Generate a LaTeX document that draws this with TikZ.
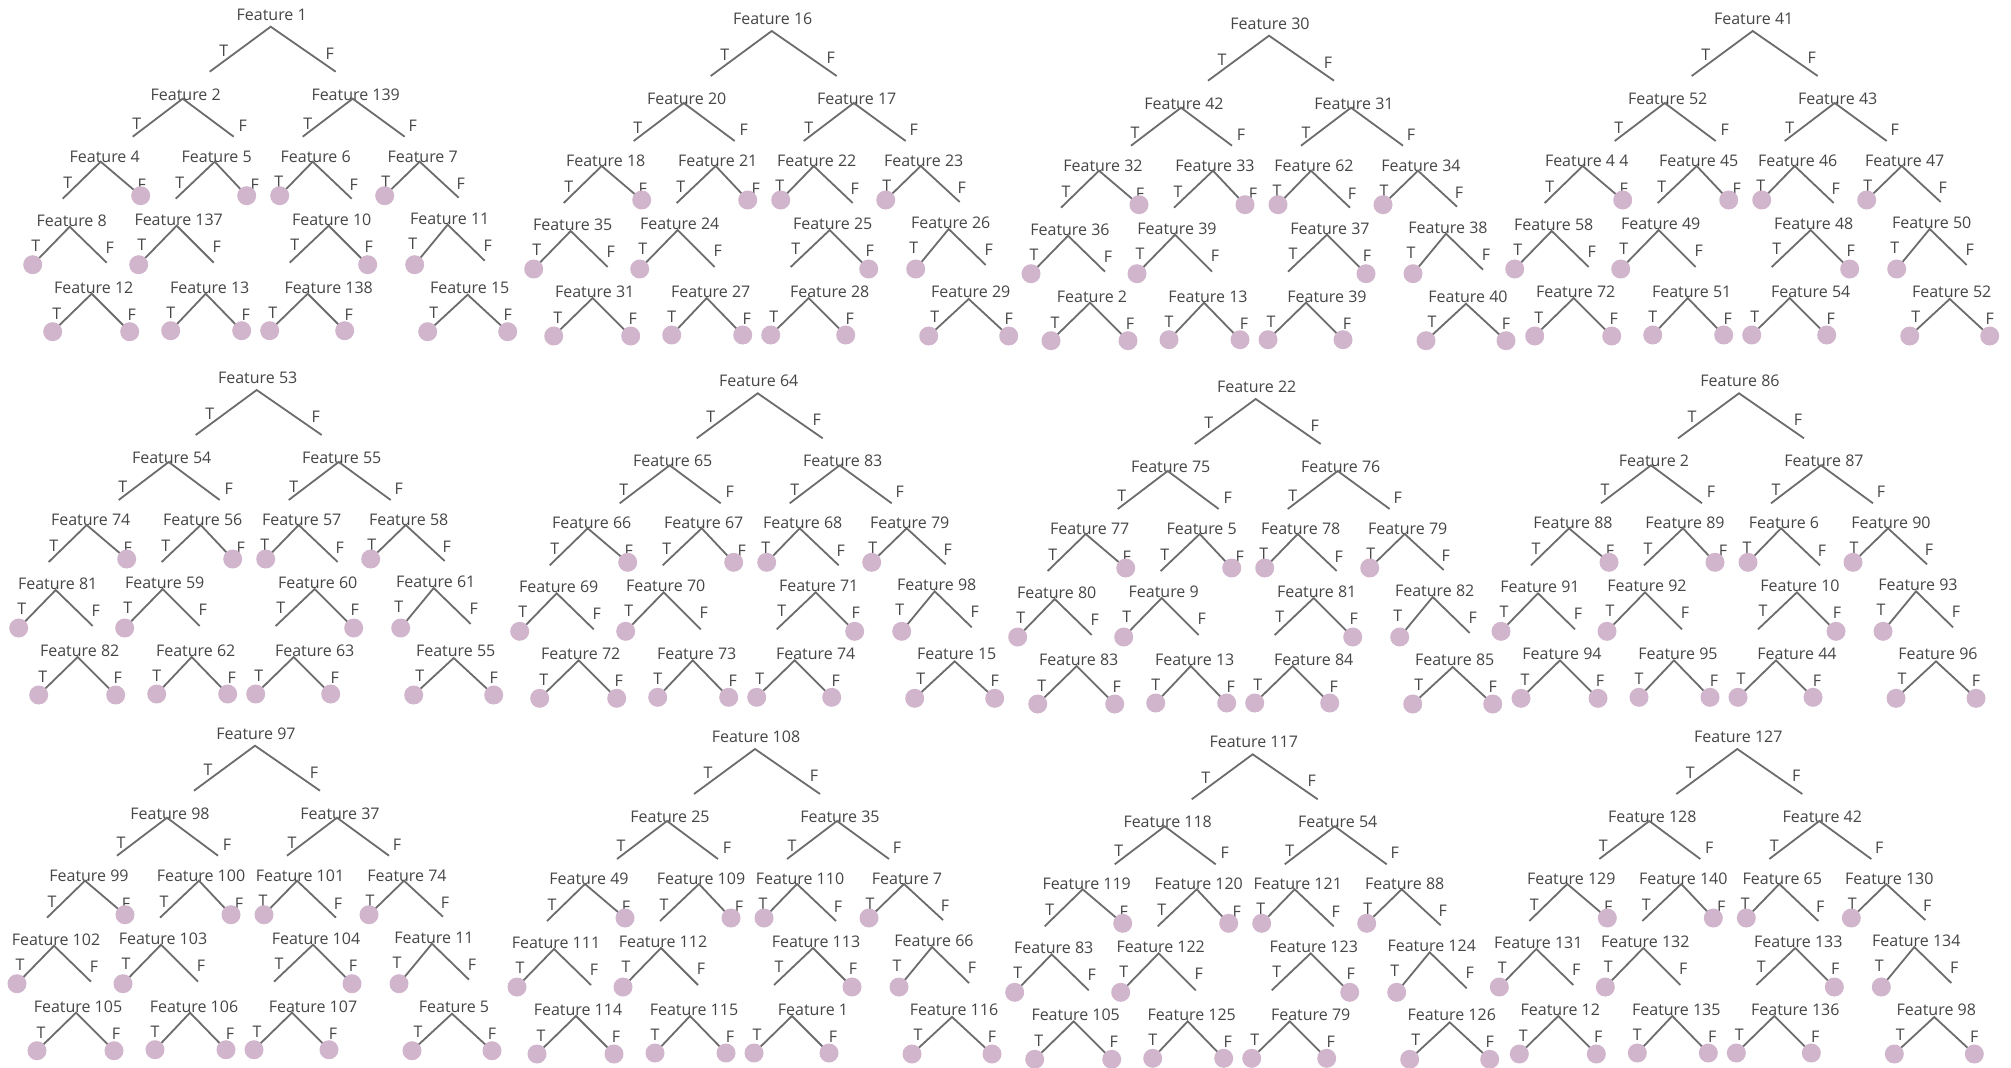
\documentclass[tikz,border=0pt]{standalone}
\usepackage{fontspec}
\setmainfont{Open Sans}
\definecolor{txt}{RGB}{70,70,70}
\definecolor{ln}{RGB}{108,108,108}
\definecolor{leafc}{RGB}{209,181,205}
\tikzset{
  feat/.style={anchor=base, yshift=-6.5pt, inner sep=0pt, text=txt, font=\fontsize{16}{18}\selectfont},
  tf/.style={anchor=base, yshift=-6.5pt, inner sep=0pt, text=txt, font=\fontsize{16}{18}\selectfont},
  br/.style={draw=ln, line width=1.8pt},
  leaf/.style={circle, fill=leafc, minimum size=19pt, inner sep=0pt},
}
% #1 name, #2 apex, #3 label pos, #4 text, #5 T end, #6 F end, #7 T label, #8 F label
\newcommand\stump[8]{%
  \coordinate (#1) at (#2);
  \node[feat] (#1-lab) at (#3) {Feature #4};
  \node[tf] (#1-tl) at (#7) {T};
  \node[tf] (#1-fl) at (#8) {F};
  \coordinate (#1-t) at (#5);
  \coordinate (#1-f) at (#6);
  \draw[br] (#1-t) -- (#1) -- (#1-f);
}
\newcommand\leaf[1]{\node[leaf] (#1-c) at (#1) {};}
\newcommand\settree[1]{\foreach \s [count=\i] in {#1}{\expandafter\xdef\csname tl\i\endcsname{\s}}}
\newcommand\tlab[1]{\csname tl#1\endcsname}
\newcommand\onetree[3]{%
\begin{scope}[shift={(#2,#3)}]
  \stump{#1-0}{0,0}{1,-13}{\tlab{1}}{-61,45}{65,45}{-47,23}{59,26}
  \stump{#1-1}{-88,72}{-85,67}{\tlab{2}}{-138,110}{-37,110}{-134,96}{-28,98}
  \stump{#1-2}{82,72}{85,67}{\tlab{3}}{32,110}{134,110}{37,96}{142,98}
  \stump{#1-3}{-170,135}{-166,129}{\tlab{4}}{-208,172}{-130,169}{-203,155}{-129,157}
  \leaf{#1-3-f}
  \stump{#1-4}{-56,135}{-54,129}{\tlab{5}}{-95,172}{-24,169}{-91,155}{-16,157}
  \leaf{#1-4-f}
  \stump{#1-5}{42,135}{45,129}{\tlab{6}}{9,169}{81,172}{8,154}{83,157}
  \leaf{#1-5-t}
  \stump{#1-6}{149,135}{152,129}{\tlab{7}}{114,169}{188,171}{115,154}{190,156}
  \leaf{#1-6-t}
  \stump{#1-7}{-201,200}{-199,193}{\tlab{8}}{-238,238}{-164,236}{-235,218}{-161,220}
  \leaf{#1-7-t}
  \stump{#1-8}{-94,199}{-92,192}{\tlab{9}}{-132,238}{-57,236}{-129,217}{-54,219}
  \leaf{#1-8-t}
  \stump{#1-9}{58,199}{61,192}{\tlab{10}}{19,236}{97,238}{24,217}{98,219}
  \leaf{#1-9-f}
  \stump{#1-10}{177,198}{179,191}{\tlab{11}}{144,238}{214,234}{142,216}{217,218}
  \leaf{#1-10-t}
  \stump{#1-11}{-179,267}{-177,260}{\tlab{12}}{-218,305}{-141,305}{-214,286}{-139,287}
  \leaf{#1-11-t}\leaf{#1-11-f}
  \stump{#1-12}{-65,267}{-61,260}{\tlab{13}}{-100,304}{-29,304}{-100,285}{-25,287}
  \leaf{#1-12-t}\leaf{#1-12-f}
  \stump{#1-13}{37,267}{58,260}{\tlab{14}}{-1,304}{74,304}{2,285}{78,287}
  \leaf{#1-13-t}\leaf{#1-13-f}
  \stump{#1-14}{197,268}{199,260}{\tlab{15}}{157,305}{237,305}{163,285}{237,287}
  \leaf{#1-14-t}\leaf{#1-14-f}
\end{scope}}
\begin{document}
\begin{tikzpicture}[x=1pt,y=-1pt]
\useasboundingbox (0,0) rectangle (2011,1068);
\fill[white] (0,0) rectangle (2011,1068);
\settree{1,2,139,4,5,6,7,8,137,10,11,12,13,138,15}\onetree{ta}{270.7}{26.7}
\settree{16,20,17,18,21,22,23,35,24,25,26,31,27,28,29}\onetree{tb}{771.7}{31}
\settree{30,42,31,32,33,62,34,36,39,37,38,2,13,39,40}\onetree{tc}{1269}{35.7}
\settree{41,52,43,4 4,45,46,47,58,49,48,50,72,51,54,52}\onetree{td}{1752.7}{31}
\settree{53,54,55,74,56,57,58,81,59,60,61,82,62,63,55}\onetree{te}{256.7}{390}
\settree{64,65,83,66,67,68,79,69,70,71,98,72,73,74,15}\onetree{tf}{757.7}{393.3}
\settree{22,75,76,77,5,78,79,80,9,81,82,83,13,84,85}\onetree{tg}{1255.7}{399}
\settree{86,2,87,88,89,6,90,91,92,10,93,94,95,44,96}\onetree{th}{1739}{393.3}
\settree{97,98,37,99,100,101,74,102,103,104,11,105,106,107,5}\onetree{ti}{255}{745.7}
\settree{108,25,35,49,109,110,7,111,112,113,66,114,115,1,116}\onetree{tj}{755}{749}
\settree{117,118,54,119,120,121,88,83,122,123,124,105,125,79,126}\onetree{tk}{1252.7}{754.3}
\settree{127,128,42,129,140,65,130,131,132,133,134,12,135,136,98}\onetree{tl}{1737.3}{749}
\end{tikzpicture}
\end{document}
